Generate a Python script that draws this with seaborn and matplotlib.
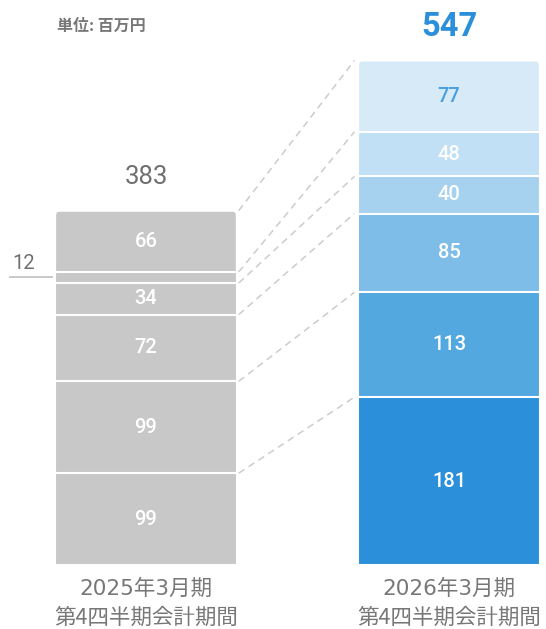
import numpy as np
import pandas as pd
import matplotlib
matplotlib.use("Agg")
import matplotlib.pyplot as plt
from matplotlib.patches import FancyBboxPatch
import seaborn as sns

# Periods shown on the x axis
periods = ["2025年3月期\n第4四半期会計期間", "2026年3月期\n第4四半期会計期間"]
# Segment values, bottom to top (百万円)
prev_values = [99, 99, 72, 34, 12, 66]
curr_values = [181, 113, 85, 40, 48, 77]
# Totals printed above each bar
totals = [383, 547]
unit_label = "単位: 百万円"

prev_color = "#c8c8c8"
curr_colors = ["#2b90d9", "#53a8e0", "#7dbde8", "#a6d2ef", "#c1e0f5", "#d7eaf8"]
curr_text_colors = ["white", "white", "white", "white", "white", "#4a9fe0"]
total_colors = ["#6f6f6f", "#2b90d9"]

sns.set_theme(style="white")
plt.rcParams["font.family"] = ["Roboto", "Noto Sans CJK JP", "DejaVu Sans"]

W, H = 546, 629
fig = plt.figure(figsize=(W / 100, H / 100), dpi=100)
ax = fig.add_axes([0, 0, 1, 1])

XLIM = (-0.4818, 1.3202)
YLIM = (-69.0, 609.2)
BAR_W = 0.6
px_x = W / (XLIM[1] - XLIM[0])
px_y = H / (YLIM[1] - YLIM[0])
corner = 4.5 / px_x
aspect = px_x / px_y

n = len(prev_values)
cum_prev = np.cumsum(prev_values)
cum_curr = np.cumsum(curr_values)
layers = pd.DataFrame({
    "layer": np.repeat(np.arange(n), 2),
    "period": periods * n,
    "top": np.ravel(np.column_stack([cum_prev, cum_curr])),
})

# Stack by overdrawing cumulative layers from the top down
for i in range(n - 1, -1, -1):
    sub = layers[layers["layer"] == i]
    palette = {periods[0]: prev_color, periods[1]: curr_colors[i]}
    before = len(ax.patches)
    sns.barplot(data=sub, x="period", y="top", hue="period", order=periods,
                hue_order=periods, palette=palette, width=BAR_W, saturation=1,
                edgecolor="white", linewidth=1.5, errorbar=None, legend=False, ax=ax)
    if i == n - 1:
        # round the top corners of the full-height bars
        for p in list(ax.patches)[before:]:
            x0, y0 = p.get_x(), p.get_y()
            w, h = p.get_width(), p.get_height()
            fc = p.get_facecolor()
            p.remove()
            ax.add_patch(FancyBboxPatch(
                (x0, y0), w, h,
                boxstyle=f"round,pad=0,rounding_size={corner}",
                mutation_aspect=aspect, facecolor=fc,
                edgecolor="white", linewidth=1.5))

# Dashed connectors between matching segment tops
for yp, yc in zip(cum_prev, cum_curr):
    ax.plot([BAR_W / 2 + 0.006, 1 - BAR_W / 2 - 0.012], [yp, yc],
            color="#cccccc", lw=1.1, linestyle=(0, (4.5, 3.2)), zorder=0.5)

# Segment value labels
for xi, (vals, colors) in enumerate([(prev_values, ["white"] * n),
                                     (curr_values, curr_text_colors)]):
    bottoms = np.concatenate([[0], np.cumsum(vals)[:-1]])
    for v, b, c in zip(vals, bottoms, colors):
        mid = b + v / 2
        if v >= 20:
            ax.text(xi, mid, f"{v}", ha="center", va="center", color=c,
                    fontsize=14.5, fontweight="medium")
        else:
            x_left = xi - BAR_W / 2
            ax.plot([x_left - 46 / px_x, x_left - 2 / px_x], [mid, mid],
                    color="#bbbbbb", lw=1.1, solid_capstyle="butt")
            ax.annotate(f"{v}", (x_left - 31 / px_x, mid), xytext=(0, 6),
                        textcoords="offset points", ha="center", va="baseline",
                        color="#707070", fontsize=14.5)

# Totals above bars
sums = [cum_prev[-1], cum_curr[-1]]
ax.annotate(f"{totals[0]}", (0, sums[0]), xytext=(0, 19.4), textcoords="offset points",
            ha="center", va="baseline", color=total_colors[0], fontsize=18.5)
ax.annotate(f"{totals[1]}", (1, sums[1]), xytext=(0, 17.3), textcoords="offset points",
            ha="center", va="baseline", color=total_colors[1], fontsize=23.5,
            fontweight="bold")

# Period labels under bars
label_family = ["DejaVu Sans", "Noto Sans CJK JP"]
for xi, lab in enumerate(periods):
    line1, line2 = lab.split("\n")
    ax.annotate(line1, (xi, 0), xytext=(0, -17.3), textcoords="offset points",
                ha="center", va="center", color="#777777", fontsize=15.5,
                family=label_family)
    ax.annotate(line2, (xi, 0), xytext=(0, -38.2), textcoords="offset points",
                ha="center", va="center", color="#777777", fontsize=15.5,
                family=["Noto Sans CJK JP", "DejaVu Sans"])

fig.text(101 / W, 1 - 25.5 / H, unit_label, ha="center", va="center",
         color="#777777", fontsize=11.5, fontweight="bold",
         family=["Noto Sans CJK JP", "DejaVu Sans"])

ax.set_xlim(*XLIM)
ax.set_ylim(*YLIM)
ax.axis("off")

fig.savefig("out.png", dpi=100)
